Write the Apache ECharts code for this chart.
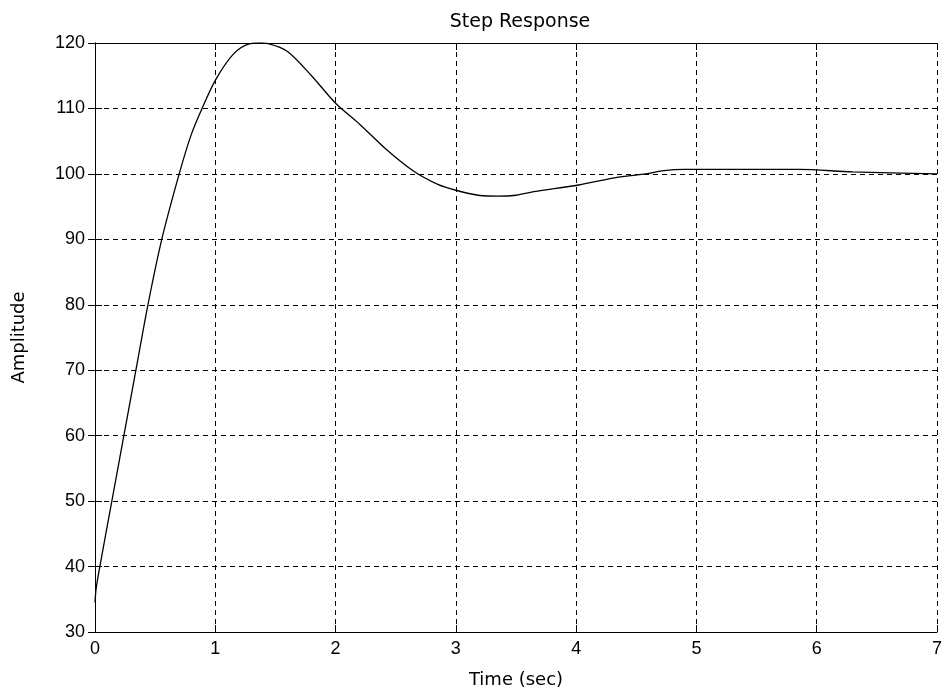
<!DOCTYPE html>
<html>
<head>
<meta charset="utf-8">
<script src="https://cdn.jsdelivr.net/npm/echarts@6/dist/echarts.min.js"></script>
<style>
  html, body { margin: 0; padding: 0; background: #fff; }
  #chart { width: 946px; height: 697px; }
</style>
</head>
<body>
<div id="chart"></div>
<script>
// time (sec) and amplitude
const times = [0, 0.01, 0.04, 0.14, 0.24, 0.34, 0.44, 0.555, 0.7, 0.8, 0.89, 1.0, 1.15, 1.29, 1.37, 1.44, 1.6, 1.8, 2.0, 2.2, 2.43, 2.65, 2.85, 3.0, 3.2, 3.35, 3.48, 3.65, 4.02, 4.35, 4.58, 4.73, 4.9, 5.85, 6.3, 7.0]
const amplitude = [34.5, 36.7, 40, 50, 60, 70, 80, 90, 100, 106, 110, 114.3, 118.3, 119.9, 120, 119.9, 118.7, 115, 110.8, 107.6, 103.6, 100.4, 98.4, 97.5, 96.7, 96.6, 96.7, 97.3, 98.3, 99.5, 100, 100.5, 100.7, 100.7, 100.3, 100]

const xTicks = [0, 1, 2, 3, 4, 5, 6, 7]
const yTicks = [30, 40, 50, 60, 70, 80, 90, 100, 110, 120]

const chart = echarts.init(document.getElementById('chart'))

const tickFont = 'Liberation Sans, Arial, sans-serif'
const textFont = 'DejaVu Sans, sans-serif'
const black = '#000'

const boxAxis = {
  axisLine: { show: true, lineStyle: { color: black, width: 1 } },
  axisTick: { show: true, inside: true, length: 7, lineStyle: { color: black } },
  axisLabel: { show: false },
  splitLine: { show: false },
}

const option = {
  backgroundColor: '#fff',
  animation: false,
  title: {
    text: 'Step Response',
    left: 515,
    textAlign: 'center',
    top: 8,
    textStyle: { fontFamily: textFont, fontSize: 19, fontWeight: 'normal', color: black },
  },
  grid: { left: 95, right: 9, top: 43, bottom: 65, outerBoundsMode: 'none' },
  xAxis: [
    {
      type: 'value',
      min: xTicks[0],
      max: xTicks[xTicks.length - 1],
      interval: 1,
      name: 'Time (sec)',
      nameLocation: 'middle',
      nameGap: 39,
      nameTextStyle: { fontFamily: textFont, fontSize: 18, color: black },
      axisLine: { lineStyle: { color: black, width: 1 } },
      axisTick: { inside: true, length: 7, lineStyle: { color: black } },
      axisLabel: { fontFamily: tickFont, fontSize: 18, color: black, margin: 8 },
      splitLine: { show: true, lineStyle: { color: black, type: [5, 4], width: 1 } },
    },
    Object.assign({ type: 'value', position: 'top', min: 0, max: 7, interval: 1 }, boxAxis),
  ],
  yAxis: [
    {
      type: 'value',
      min: yTicks[0],
      max: yTicks[yTicks.length - 1],
      interval: 10,
      name: 'Amplitude',
      nameLocation: 'middle',
      nameGap: 67,
      nameRotate: 90,
      nameTextStyle: { fontFamily: textFont, fontSize: 18, color: black },
      axisLine: { show: true, lineStyle: { color: black, width: 1 } },
      axisTick: { show: true, inside: true, length: 7, lineStyle: { color: black } },
      axisLabel: { fontFamily: tickFont, fontSize: 18, color: black, margin: 10 },
      splitLine: { show: true, lineStyle: { color: black, type: [5, 4], width: 1 } },
    },
    Object.assign({ type: 'value', position: 'right', min: 30, max: 120, interval: 10 }, boxAxis),
  ],
  series: [
    {
      type: 'line',
      data: times.map((t, i) => [t, amplitude[i]]),
      smooth: 0.3,
      showSymbol: false,
      lineStyle: { color: black, width: 1.3 },
      z: 5,
    },
  ],
}

chart.setOption(option)
</script>
</body>
</html>
